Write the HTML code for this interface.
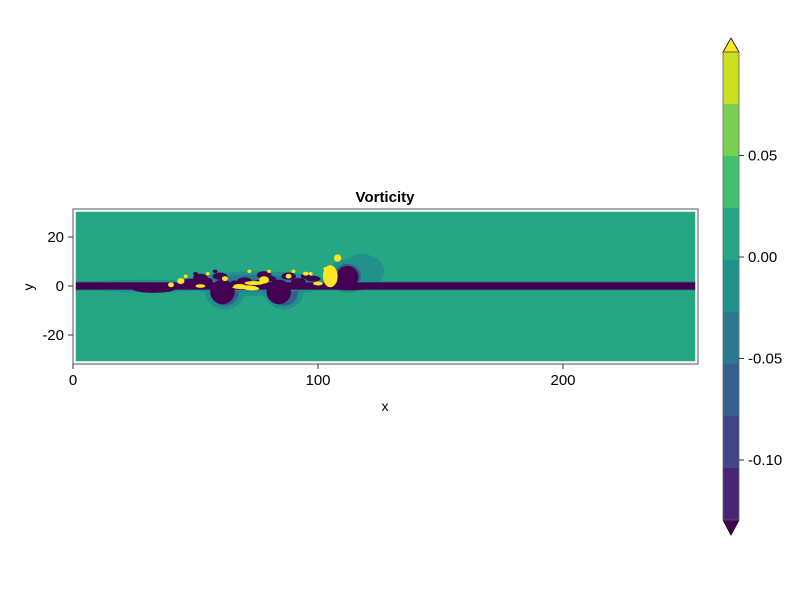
<!DOCTYPE html>
<html><head><meta charset="utf-8"><style>
body{margin:0;background:#fff;font-family:"Liberation Sans",sans-serif}
svg text{font-family:"Liberation Sans",sans-serif;fill:#000}
</style></head><body>
<svg width="800" height="600" xmlns="http://www.w3.org/2000/svg">
<defs><clipPath id="pc"><rect x="75" y="211" width="621" height="151"/></clipPath></defs>
<g id="plot"></g>
<rect x="73" y="209" width="625" height="155" fill="none" stroke="#555" stroke-width="1"/>
<rect x="75" y="211" width="621" height="151" fill="none" stroke="#fff" stroke-width="1.5"/>
<text x="385" y="202" text-anchor="middle" font-size="15" font-weight="bold">Vorticity</text>
<g id="xaxis"></g>
<g id="yaxis"></g>
<text x="385" y="411" text-anchor="middle" font-size="14">x</text>
<text x="33" y="287" text-anchor="middle" font-size="14" transform="rotate(-90 33 287)">y</text>
<g id="cbar"></g>
</svg>
<script>
const levelColors=["#440154","#482475","#414487","#355f8d","#2a788e","#21918c","#25a784","#44bf70","#7ad151","#c8e020","#fde725"];
const cbTickValues=[0.05,0.0,-0.05,-0.10];
const cbTickLabels=["0.05","0.00","-0.05","-0.10"];
const xTicks=[0,100,200];
const yTicks=[20,0,-20];
// halo blobs (drawn under the wake strip)
const haloX=[30,62,86,112,75,118,62,86,112,75];
const haloY=[0,-2.5,-2.5,4,1,6,-2.4,-2.4,3.8,1];
const haloRX=[30,8,8,8,30,9,5.8,5.8,5.5,25];
const haloRY=[2.6,7,7,7,5,7,5.7,5.7,5.3,3.5];
const haloL=[5,5,5,5,5,5,3,3,3,4];
// core features (drawn over the wake strip)
const coreX=[33,61,84,112,48,54,70,76,80,92,98,66,50,58,52,60,78,88,95,44,52,62,68,73,78,88,95,100,105,108,113,40,46,55,72,80,90,97,103,70,74];
const coreY=[-1,-2.4,-2.4,3.7,1.5,2,2,1,3,2,3,1,5,6,3.5,4,4.5,4,4,2,0,3,0,-1,2.5,4,5,1,4,11.4,-1,0.5,4,5,6,6,6,5,7,-0.5,1.2];
const coreRX=[9,5,5,4.5,4,3,3,3,3,3,3,2,1,1,3,3,3,3,2,1.5,2,1.2,2.5,3,2,1.2,1.2,2,3,1.5,6,1.2,0.8,0.8,0.8,0.8,0.8,0.8,0.8,5,4];
const coreRY=[1.8,5,5,4.5,1.5,1.5,1.5,1.5,1.2,1.2,1.2,1.2,0.7,0.7,1.5,1.5,1.5,1.5,1.2,1.2,0.7,1,0.8,0.8,1.5,1,0.8,0.8,4.5,1.5,0.8,1,0.7,0.7,0.7,0.7,0.7,0.7,0.7,0.8,0.8];
const coreL=[0,0,0,0,0,0,0,0,0,0,0,0,0,0,0,0,0,0,0,10,10,10,10,10,10,10,10,10,10,10,0,10,10,10,10,10,10,10,10,10,10];
const NS="http://www.w3.org/2000/svg";
const X0=73,XS=2.45,Y0=286,YS=2.45;
const sx=v=>X0+v*XS, sy=v=>Y0-v*YS;
function mk(t,a,p){const e=document.createElementNS(NS,t);for(const k in a)e.setAttribute(k,a[k]);p.appendChild(e);return e;}
const plot=document.getElementById('plot');
const g=mk('g',{'clip-path':'url(#pc)'},plot);
const bg=mk('rect',{x:73,y:209,width:625,height:155,fill:levelColors[6]},g);


for(let i=0;i<haloX.length;i++){
 const e=mk('ellipse',{cx:sx(haloX[i]),cy:sy(haloY[i]),rx:haloRX[i]*XS,ry:haloRY[i]*YS,fill:levelColors[haloL[i]]},g);
 
 
}
const wakeH=mk('rect',{x:sx(0),y:sy(2),width:sx(255)-sx(0),height:4*YS,fill:levelColors[5]},g);


const wake=mk('rect',{x:sx(0),y:sy(1.5),width:sx(255)-sx(0),height:3*YS,fill:levelColors[0]},g);


for(let i=0;i<coreX.length;i++){
 const e=mk('ellipse',{cx:sx(coreX[i]),cy:sy(coreY[i]),rx:coreRX[i]*XS,ry:coreRY[i]*YS,fill:levelColors[coreL[i]]},g);
 
 
}
const xa=document.getElementById('xaxis');
xTicks.forEach(v=>{
 const l=mk('line',{x1:sx(v),x2:sx(v),y1:364,y2:369,stroke:'#333'},xa);
 
 
 const t=mk('text',{x:sx(v),y:385,'text-anchor':'middle','font-size':15},xa);t.textContent=v;
 
 
});
const ya=document.getElementById('yaxis');
yTicks.forEach(v=>{
 const l=mk('line',{x1:68,x2:73,y1:sy(v),y2:sy(v),stroke:'#333'},ya);
 
 
 const t=mk('text',{x:64,y:sy(v)+5,'text-anchor':'end','font-size':15},ya);t.textContent=v;
 
 
});
const cb=document.getElementById('cbar');
const CX=723,CW=16,CT=52,CB=520,nb=9,bh=(CB-CT)/nb;
for(let i=0;i<nb;i++){
 const r=mk('rect',{x:CX,y:CT+i*bh,width:CW,height:bh+0.5,fill:levelColors[9-i]},cb);
 
 
}
const tt=mk('polygon',{points:`${CX},${CT} ${CX+CW},${CT} ${CX+CW/2},38`,fill:levelColors[10],stroke:'#000','stroke-width':0.8},cb);


const tb=mk('polygon',{points:`${CX},${CB} ${CX+CW},${CB} ${CX+CW/2},535`,fill:levelColors[0],stroke:'#000','stroke-width':0.8},cb);


mk('rect',{x:CX,y:CT,width:CW,height:CB-CT,fill:'none',stroke:'#666','stroke-width':0.8},cb);
const cy=v=>257-(v/0.05)*101.5;
cbTickValues.forEach((v,i)=>{
 const l=mk('line',{x1:CX+CW,x2:CX+CW+5,y1:cy(v),y2:cy(v),stroke:'#333'},cb);
 
 
 const t=mk('text',{x:CX+CW+9,y:cy(v)+5,'font-size':15},cb);t.textContent=cbTickLabels[i];
 
 
});
</script>
</body></html>
